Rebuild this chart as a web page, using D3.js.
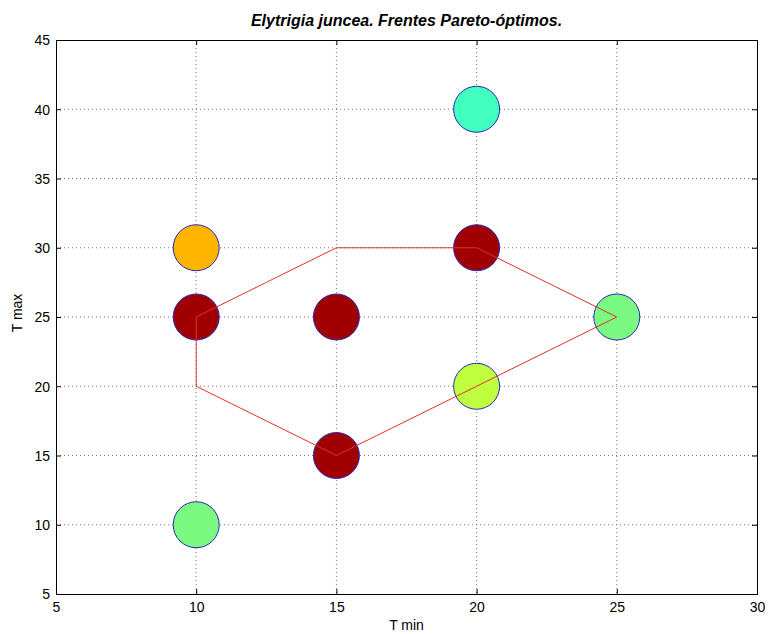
<!DOCTYPE html>
<html><head><meta charset="utf-8">
<script src="https://cdn.jsdelivr.net/npm/d3@7/dist/d3.min.js"></script>
<style>body{margin:0;background:#fff}svg{display:block}text{font-family:Arial,"Liberation Sans",sans-serif}</style>
</head><body><svg id="c" width="768" height="634"></svg>
<script>
const title = "Elytrigia juncea. Frentes Pareto-óptimos.";
const xLabel = "T min", yLabel = "T max";
const xTicks = [5,10,15,20,25,30];
const yTicks = [5,10,15,20,25,30,35,40,45];
const ptX = [10,10,15,20,20,25,20,15,10];
const ptY = [30,25,25,30,40,25,20,15,10];
const ptColor = ["#FFB400","#A00000","#A00000","#A00000","#40FFBF","#7AFA80","#BFFF40","#A00000","#7AFA80"];
const frontX = [10,15,20,25,20,15,10,10];
const frontY = [25,30,30,25,20,15,20,25];

const svg = d3.select("#c");
const L=56,R=757,T=40,B=594;
const x = d3.scaleLinear().domain([5,30]).range([L,R]);
const y = d3.scaleLinear().domain([5,45]).range([B,T]);

// grid
const g = svg.append("g");
g.selectAll(".gx").data(xTicks.slice(1,-1)).join("line")
 .attr("x1",d=>x(d)).attr("x2",d=>x(d)).attr("y1",T).attr("y2",B)
 .attr("stroke","#777").attr("stroke-width",1).attr("stroke-dasharray","1,3");
g.selectAll(".gy").data(yTicks.slice(1,-1)).join("line")
 .attr("y1",d=>y(d)).attr("y2",d=>y(d)).attr("x1",L).attr("x2",R)
 .attr("stroke","#777").attr("stroke-width",1).attr("stroke-dasharray","1,3");

// points
svg.append("g").selectAll("circle").data(ptX.map((v,i)=>({x:v,y:ptY[i],c:ptColor[i]}))).join("circle")
 .attr("cx",d=>x(d.x)).attr("cy",d=>y(d.y)).attr("r",23)
 .attr("fill",d=>d.c).attr("stroke","#2828B8").attr("stroke-width",1);

// front line
svg.append("path").datum(frontX.map((v,i)=>[v,frontY[i]]))
 .attr("d",d3.line().x(d=>x(d[0])).y(d=>y(d[1])))
 .attr("fill","none").attr("stroke","#E03030").attr("stroke-width",1);

// axes
const ax = svg.append("g").attr("transform",`translate(0,${B})`)
 .call(d3.axisBottom(x).tickValues(xTicks).tickSize(-5).tickPadding(8).tickFormat(d3.format("d")));
const axT = svg.append("g").attr("transform",`translate(0,${T})`)
 .call(d3.axisTop(x).tickValues(xTicks).tickSize(-5).tickFormat(""));
const ay = svg.append("g").attr("transform",`translate(${L},0)`)
 .call(d3.axisLeft(y).tickValues(yTicks).tickSize(-5).tickPadding(6).tickFormat(d3.format("d")));
const ayR = svg.append("g").attr("transform",`translate(${R},0)`)
 .call(d3.axisRight(y).tickValues(yTicks).tickSize(-5).tickFormat(""));
[ax,axT,ay,ayR].forEach(a=>{
  a.selectAll("path").attr("stroke","#000").attr("stroke-width",1);
  a.selectAll("line").attr("stroke","#000");
  a.selectAll("text").attr("font-size",14).attr("fill","#000").attr("font-family","Arial, 'Liberation Sans', sans-serif");
});
ax.selectAll("text").attr("dy","0.71em");
ay.selectAll("text").attr("dy","0.35em");

svg.append("text").attr("x",(L+R)/2).attr("y",26).attr("text-anchor","middle")
 .attr("font-size",16).attr("font-weight","bold").attr("font-style","italic").text(title);
svg.append("text").attr("x",(L+R)/2).attr("y",630).attr("text-anchor","middle")
 .attr("font-size",14).text(xLabel);
svg.append("text").attr("transform",`translate(22,313) rotate(-90)`).attr("text-anchor","middle")
 .attr("font-size",14).text(yLabel);
</script></body></html>
